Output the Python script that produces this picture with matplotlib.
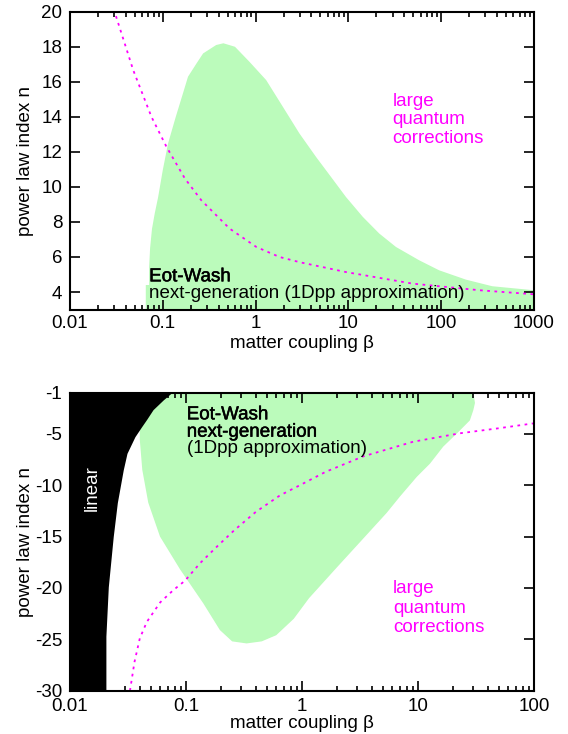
import numpy as np
import matplotlib
matplotlib.use('Agg')
import matplotlib.pyplot as plt
import matplotlib.patheffects as pe
from matplotlib.ticker import FixedLocator, LogLocator, NullFormatter

plt.rcParams['font.family'] = ['Liberation Sans', 'DejaVu Sans']
plt.rcParams['font.size'] = 13.5
plt.rcParams['axes.unicode_minus'] = False

GREEN = '#bbfbbb'
MAGENTA = '#ff00ff'

# ---- top panel (n > 0) ----
top_green_beta = [0.0656, 0.0656, 0.0713, 0.0713, 0.073, 0.0765, 0.082, 0.089, 0.1, 0.114, 0.138,
                  0.165, 0.187, 0.231, 0.272, 0.376, 0.45, 0.6, 0.86, 1.30, 1.97, 2.97,
                  4.5, 6.5, 9.4, 14.3, 21.5, 32.6, 58, 95, 184, 355, 1000]
top_green_n = [3.0, 4.4, 4.4, 5.43, 6.5, 7.6, 8.5, 9.4, 10.96, 12.48, 14.0,
               15.34, 16.29, 17.05, 17.62, 18.1, 18.2, 18.0, 17.14, 16.1, 14.57, 13.05,
               11.7, 10.57, 9.43, 8.29, 7.34, 6.57, 5.81, 5.24, 4.71, 4.33, 4.1]

top_qc_beta = [0.0313, 0.048, 0.0755, 0.1096, 0.173, 0.26, 0.525, 1.02, 1.81, 3.0, 9.4, 49, 260, 1000]
top_qc_n = [19.75, 16.67, 14.0, 12.29, 10.48, 9.24, 7.62, 6.57, 6.0, 5.7, 5.14, 4.48, 4.1, 3.87]

top_xticks = [0.01, 0.1, 1, 10, 100, 1000]
top_xlabels = ['0.01', '0.1', '1', '10', '100', '1000']
top_yticks = [4, 6, 8, 10, 12, 14, 16, 18, 20]

# ---- bottom panel (n < 0) ----
bot_green_beta = [0.03, 0.06, 30, 31, 30, 28, 21.5, 16.5, 12.7, 9.75, 7.0, 5.37, 3.5, 2.0,
                  1.15, 0.85, 0.6, 0.45, 0.333, 0.25, 0.196, 0.141, 0.089, 0.0597, 0.0473,
                  0.042, 0.040, 0.040, 0.035]
bot_green_n = [-1, -1, -1, -2, -2.7, -3.7, -5.0, -6.25, -7.9, -9.2, -11.1, -12.7, -15, -18,
               -21, -23, -24.6, -25.2, -25.4, -25.2, -24.1, -21.5, -18.2, -15, -11.7,
               -8.5, -5.6, -4.5, -4.0]

linear_n = [-1, -1.7, -2.65, -3.6, -4.3, -5.28, -6.9, -8.5, -11.7, -15, -19.9, -24.7, -30]
linear_beta = [0.0753, 0.0637, 0.052, 0.0458, 0.0415, 0.0363, 0.031, 0.0288, 0.0256,
               0.0236, 0.0214, 0.0204, 0.0204]

bot_qc_beta = [0.0329, 0.036, 0.04, 0.046, 0.06, 0.078, 0.098, 0.132, 0.184, 0.26, 0.4,
               0.645, 1.0, 1.6, 3.37, 9.1, 23, 49, 100]
bot_qc_n = [-30, -27.2, -24.9, -23.3, -21.4, -20.2, -19.3, -17.6, -16.0, -14.4, -12.6,
            -11.0, -9.9, -8.7, -7.2, -5.77, -4.95, -4.47, -3.98]

bot_xticks = [0.01, 0.1, 1, 10, 100]
bot_xlabels = ['0.01', '0.1', '1', '10', '100']
bot_yticks = [-1, -5, -10, -15, -20, -25, -30]

heavy = [pe.withStroke(linewidth=0.35, foreground='black')]


def style(ax, xticks, xlabels, yticks, xlab_y, xpad):
    ax.set_xscale('log')
    ax.xaxis.set_major_locator(FixedLocator(xticks))
    ax.set_xticklabels(xlabels)
    ax.xaxis.set_minor_locator(LogLocator(base=10, subs=np.arange(2, 10)))
    ax.xaxis.set_minor_formatter(NullFormatter())
    ax.set_yticks(yticks)
    ax.tick_params(which='both', direction='in', top=True, right=True, width=1.2)
    ax.tick_params(which='major', length=7)
    ax.tick_params(which='minor', length=3.5)
    ax.tick_params(axis='x', which='major', pad=xpad)
    ax.tick_params(axis='y', which='major', pad=5.5)
    for s in ax.spines.values():
        s.set_linewidth(1.5)
    ax.set_xlabel('matter coupling β')
    ax.set_ylabel('power law index n')
    ax.xaxis.set_label_coords(0.5, xlab_y)
    ax.yaxis.set_label_coords(-0.078, 0.5)


fig = plt.figure(figsize=(5.68, 7.34), dpi=100)

ax1 = fig.add_axes([0.1232, 0.5783, 0.8169, 0.4057])
ax1.fill(top_green_beta + [1000], top_green_n + [3.0], color=GREEN, lw=0)
ax1.plot(top_qc_beta, top_qc_n, color=MAGENTA, lw=1.3, ls=(0, (1.5, 2.5)))
ax1.set_xlim(0.01, 1000)
ax1.set_ylim(3, 20)
style(ax1, top_xticks, top_xlabels, top_yticks, -0.085, 4)
ax1.text(0.0713, 4.61, 'Eot-Wash', path_effects=heavy)
ax1.text(0.0713, 3.67, 'next-generation (1Dpp approximation)')
for txt, yy in zip(['large', 'quantum', 'corrections'], [14.61, 13.58, 12.51]):
    ax1.text(29.9, yy, txt, color=MAGENTA)

ax2 = fig.add_axes([0.1232, 0.0590, 0.8169, 0.4060])
ax2.fill(bot_green_beta, bot_green_n, color=GREEN, lw=0)
ax2.fill_betweenx(linear_n, 0.01, linear_beta, color='black', lw=0)
ax2.plot(bot_qc_beta, bot_qc_n, color=MAGENTA, lw=1.3, ls=(0, (1.5, 2.5)))
ax2.set_xlim(0.01, 100)
ax2.set_ylim(-30, -1)
style(ax2, bot_xticks, bot_xlabels, bot_yticks, -0.08, 5.5)
ax2.text(0.0157, -10.27, 'linear', color='white', rotation=90, ha='center', va='center')
ax2.text(0.1015, -3.59, 'Eot-Wash', path_effects=heavy)
ax2.text(0.1015, -5.28, 'next-generation', path_effects=heavy)
ax2.text(0.1015, -6.9, '(1Dpp approximation)')
for txt, yy in zip(['large', 'quantum', 'corrections'], [-20.51, -22.4, -24.25]):
    ax2.text(6.12, yy, txt, color=MAGENTA)

fig.savefig('out.png', dpi=100)
